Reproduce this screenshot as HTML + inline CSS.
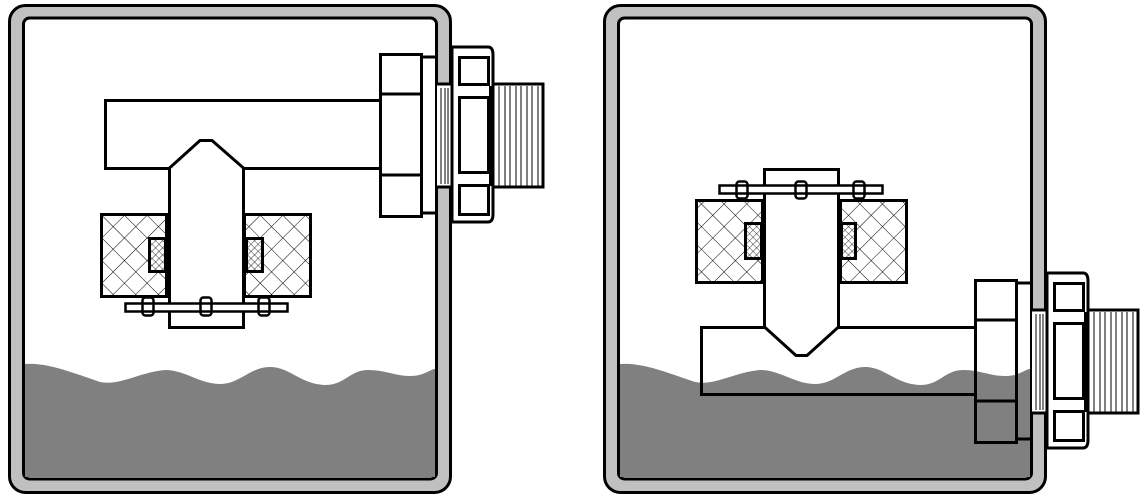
<!DOCTYPE html>
<html><head><meta charset="utf-8"><style>html,body{margin:0;padding:0;background:#fff}svg{display:block}</style></head>
<body>
<svg width="1143" height="500" viewBox="0 0 1143 500" xmlns="http://www.w3.org/2000/svg">
<defs>
<pattern id="h1" width="16" height="16" patternUnits="userSpaceOnUse" patternTransform="rotate(45)">
<rect width="16" height="16" fill="#fff"/>
<path d="M0 0H16M0 0V16" stroke="#000" stroke-width="1"/>
</pattern>
<pattern id="h2" width="5" height="5" patternUnits="userSpaceOnUse" patternTransform="rotate(45)">
<rect width="5" height="5" fill="#fff"/>
<path d="M0 0H5M0 0V5" stroke="#000" stroke-width="0.8"/>
</pattern>
<g id="cont">
<rect x="9.5" y="5.5" width="441" height="487" rx="16" fill="#c0c0c0" stroke="#000" stroke-width="3"/>
<rect x="23.5" y="18" width="413" height="461" rx="6" fill="#fff" stroke="#000" stroke-width="3"/>
<path d="M25 364 C45 363 60 368 100 382 C120 386 140 372 165 370 C185 370 200 384 220 384 C240 384 250 367 270 367 C290 367 300 384 325 385 C345 385 350 370 368 370 C385 370 395 376 410 376 C425 376 430 369 435 369 L435 477 L25 477 Z" fill="#808080"/>
</g>
<g id="hw" stroke="#000" stroke-width="3" fill="none">
<rect x="437" y="84" width="15" height="103" fill="#fff" stroke="none"/>
<path d="M437 84H452M437 187H452" />
<path d="M441 88V184M445 88V184M448 88V184" stroke-width="1"/>
<path d="M422 57H437M422 213H437"/>
<rect x="380.5" y="54.5" width="41" height="162" />
<path d="M380 94H422M380 175H422"/>
<path d="M452 47H488Q493 47 493 55V214Q493 222 488 222H452Z" fill="#fff"/>
<rect x="459.5" y="57.5" width="29" height="27"/>
<rect x="459.5" y="97.5" width="29" height="75"/>
<rect x="459.5" y="185.5" width="29" height="29"/>
<path d="M493 84H543V187H493Z" fill="#fff"/>
<path d="M491 86V186" stroke-width="4"/>
<path d="M499 86V186M505 86V186M510 86V186M516 86V186M521 86V186M527 86V186M532 86V186M538 86V186" stroke-width="1"/>
<path d="M437 5V492M452 5V492" stroke="none"/>
</g>
</defs>

<!-- LEFT PANEL -->
<use href="#cont"/>
<g stroke="#000" stroke-width="3" fill="#fff">
<path d="M437 84V187" stroke="none"/>
<rect x="105.5" y="100.5" width="275" height="68"/>
<rect x="101.5" y="214.5" width="65" height="82" fill="url(#h1)"/>
<rect x="244.5" y="214.5" width="66" height="82" fill="url(#h1)"/>
<rect x="149.5" y="238.5" width="16" height="33" fill="url(#h2)"/>
<rect x="246.5" y="238.5" width="16" height="33" fill="url(#h2)"/>
<path d="M169.5 327.5V168L200 140.5H212L243.5 168V327.5Z"/>
<rect x="125.5" y="303.5" width="162" height="8" stroke-width="2.5"/>
<rect x="142.5" y="297.5" width="11" height="18" rx="3" stroke-width="2.5" fill="none"/>
<rect x="200.5" y="297.5" width="11" height="18" rx="3" stroke-width="2.5" fill="none"/>
<rect x="258.5" y="297.5" width="11" height="18" rx="3" stroke-width="2.5" fill="none"/>
</g>
<use href="#hw"/>

<!-- RIGHT PANEL -->
<use href="#cont" transform="translate(595,0)"/>
<g stroke="#000" stroke-width="3" fill="none">
<rect x="701.5" y="327.5" width="274" height="67"/>
<rect x="696.5" y="200.5" width="66" height="82" fill="url(#h1)"/>
<rect x="840.5" y="200.5" width="66" height="82" fill="url(#h1)"/>
<rect x="745.5" y="223.5" width="16" height="35" fill="url(#h2)"/>
<rect x="841.5" y="223.5" width="14" height="35" fill="url(#h2)"/>
<path d="M764.5 169.5H838.5V327L807 355.5H796L764.5 327Z" fill="#fff"/>
<rect x="719.5" y="185.5" width="163" height="8" stroke-width="2.5" fill="#fff"/>
<rect x="736.5" y="181.5" width="11" height="17" rx="3" stroke-width="2.5"/>
<rect x="795.5" y="181.5" width="11" height="17" rx="3" stroke-width="2.5"/>
<rect x="853.5" y="181.5" width="11" height="17" rx="3" stroke-width="2.5"/>
</g>
<g transform="translate(595,226)">
<g stroke="#000" stroke-width="3" fill="none">
<rect x="437" y="84" width="15" height="103" fill="#fff" stroke="none"/>
<path d="M437 84H452M437 187H452"/>
<path d="M441 88V184M445 88V184M448 88V184" stroke-width="1"/>
<path d="M422 57H437M422 213H437"/>
<rect x="380.5" y="54.5" width="41" height="162"/>
<path d="M380 94H422M380 175H422"/>
<path d="M452 47H488Q493 47 493 55V214Q493 222 488 222H452Z" fill="#fff"/>
<rect x="459.5" y="57.5" width="29" height="27"/>
<rect x="459.5" y="97.5" width="29" height="75"/>
<rect x="459.5" y="185.5" width="29" height="29"/>
<path d="M493 84H543V187H493Z" fill="#fff"/>
<path d="M491 86V186" stroke-width="4"/>
<path d="M499 86V186M505 86V186M510 86V186M516 86V186M521 86V186M527 86V186M532 86V186M538 86V186" stroke-width="1"/>
</g>
</g>
</svg>
</body></html>
